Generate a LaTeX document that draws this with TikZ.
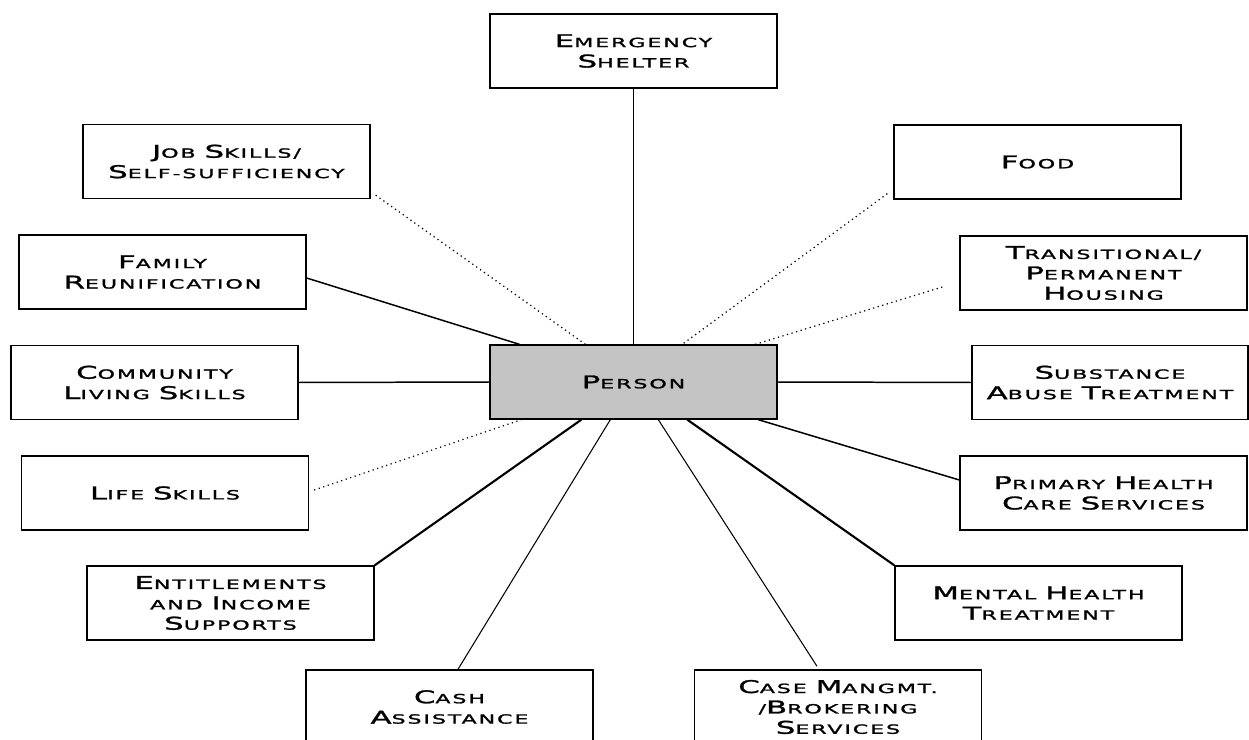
\documentclass[tikz,border=0pt]{standalone}
\usepackage{fontspec}
\usetikzlibrary{calc}
\newfontfamily\boxfont[FakeStretch=1.75,LetterSpace=15,FakeBold=1.6]{DejaVu Sans}
\newcommand\Bg[1]{{\fontsize{10}{11.6}\selectfont #1}}
\definecolor{hubgray}{RGB}{196,196,196}

\begin{document}
\begin{tikzpicture}[x=0.02cm,y=-0.02cm,
  box/.style={draw,line width=0.8pt,minimum width=5.74cm,minimum height=1.48cm,
    inner sep=0pt,align=center,font={\boxfont\fontsize{7.2}{11.6}\selectfont}},
  hub/.style={box,fill=hubgray},
  link/.style={line width=0.85pt},
  heavylink/.style={line width=1.2pt},
  thinlink/.style={line width=0.6pt},
  dotlink/.style={line width=0.7pt,dash pattern=on 0.7pt off 2pt}]
  \useasboundingbox (0,0) rectangle (1249,740);

  \node[hub] (person) at (633.5,382) {\Bg{P}ERSON};

  \node[box] (emergency) at (633.5,51) {\Bg{E}MERGENCY\\\Bg{S}HELTER};
  \node[box] (job) at (226.5,161.5) {\Bg{J}OB \Bg{S}KILLS/\\\Bg{S}ELF-SUFFICIENCY};
  \node[box] (family) at (162.5,272) {\Bg{F}AMILY\\\Bg{R}EUNIFICATION};
  \node[box] (community) at (154.5,382.5) {\Bg{C}OMMUNITY\\\Bg{L}IVING \Bg{S}KILLS};
  \node[box] (life) at (165,493) {\Bg{L}IFE \Bg{S}KILLS};
  \node[box] (entitle) at (230.5,603) {\Bg{E}NTITLEMENTS\\AND \Bg{I}NCOME\\\Bg{S}UPPORTS};
  \node[box] (cash) at (449.5,707) {\Bg{C}ASH\\\Bg{A}SSISTANCE};
  \node[box] (casemg) at (838,707) {\Bg{C}ASE \Bg{M}ANGMT.\\/\Bg{B}ROKERING\\\Bg{S}ERVICES};
  \node[box] (mental) at (1038.5,603) {\Bg{M}ENTAL \Bg{H}EALTH\\\Bg{T}REATMENT};
  \node[box] (primary) at (1103.5,493) {\Bg{P}RIMARY \Bg{H}EALTH\\\Bg{C}ARE \Bg{S}ERVICES};
  \node[box,minimum width=5.52cm] (substance) at (1110,382.5) {\Bg{S}UBSTANCE\\\Bg{A}BUSE \Bg{T}REATMENT};
  \node[box] (housing) at (1103.5,273) {\Bg{T}RANSITIONAL/\\\Bg{P}ERMANENT\\\Bg{H}OUSING};
  \node[box] (food) at (1037.5,162) {\Bg{F}OOD};

  \draw[link] (emergency.south) -- (person.north);
  \draw[dotlink] ($(job.south east)+(5,-4)$) -- ($(person.north west)+(96,0)$);
  \draw[link] ($(family.east)+(0,6)$) -- ($(person.north west)+(30,0)$);
  \draw[link] (community.east) -- (person.west);
  \draw[dotlink] ($(life.east)+(5,-3)$) -- ($(person.south west)+(32,0)$);
  \draw[heavylink] (entitle.north east) -- ($(person.south west)+(92,0)$);
  \draw[thinlink] ($(cash.north)+(8.5,0)$) -- ($(person.south west)+(121,0)$);
  \draw[thinlink] ($(casemg.north)+(-21,-3)$) -- ($(person.south west)+(169,0)$);
  \draw[heavylink] (mental.north west) -- ($(person.south west)+(198,0)$);
  \draw[link] ($(primary.west)+(0,-13)$) -- ($(person.south west)+(269,0)$);
  \draw[link] (substance.west) -- (person.east);
  \draw[dotlink] ($(housing.west)+(-17,14)$) -- ($(person.north west)+(266,0)$);
  \draw[dotlink] ($(food.south west)+(-6,-6)$) -- ($(person.north west)+(193,0)$);
\end{tikzpicture}
\end{document}
